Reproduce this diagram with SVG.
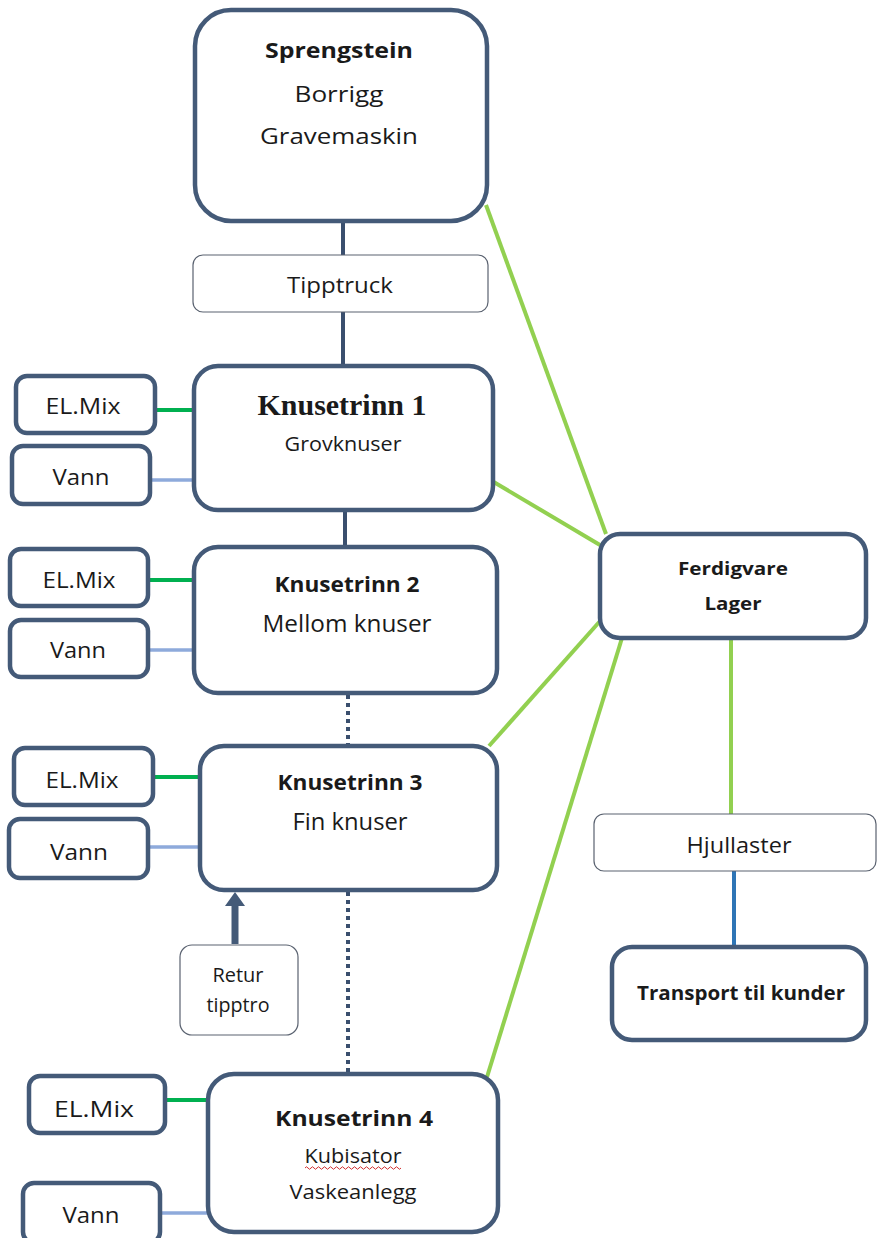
<svg xmlns="http://www.w3.org/2000/svg" width="877" height="1238" viewBox="0 0 877 1238">
<style>
.main{fill:#fff;stroke:#445a78;stroke-width:4.5}
.thin{fill:#fff;stroke:#5a6270;stroke-width:1.2}
.side{fill:#fff;stroke:#445a78;stroke-width:4.5}
.dk{stroke:#3a4f6e;stroke-width:4;fill:none}
.dot{stroke:#3a4f6e;stroke-width:4;fill:none;stroke-dasharray:4 4}
.lg{stroke:#92d050;stroke-width:4;fill:none}
.el{stroke:#00b050;stroke-width:4;fill:none}
.va{stroke:#8eaadb;stroke-width:3.5;fill:none}
.bl{stroke:#2e75b6;stroke-width:4;fill:none}
text{font-family:"Open Sans","Liberation Sans",sans-serif;fill:#1a1a1a;text-anchor:middle}
.b{font-weight:bold}
.t{font-size:22px}
.ser{font-family:"Liberation Serif","DejaVu Serif",serif;font-weight:bold;font-size:29px}
</style>
<g id="connectors">
<line class="dk" x1="343" y1="222" x2="343" y2="255"/>
<line class="dk" x1="343" y1="312" x2="343" y2="366"/>
<line class="dk" x1="345" y1="511" x2="345" y2="546"/>
<line class="dot" x1="348" y1="695" x2="348" y2="745"/>
<line class="dot" x1="348" y1="892" x2="348" y2="1073"/>
<line class="lg" x1="486" y1="205" x2="606" y2="534"/>
<line class="lg" x1="492" y1="481" x2="600" y2="545"/>
<line class="lg" x1="489" y1="746" x2="601" y2="620"/>
<line class="lg" x1="487" y1="1077" x2="622" y2="638"/>
<line class="lg" x1="731" y1="638" x2="731" y2="814"/>
<line class="bl" x1="734" y1="871" x2="734" y2="946"/>
<line class="el" x1="155" y1="410" x2="194" y2="410"/>
<line class="va" x1="150" y1="480" x2="194" y2="480"/>
<line class="el" x1="148" y1="580" x2="194" y2="580"/>
<line class="va" x1="148" y1="650" x2="194" y2="650"/>
<line class="el" x1="153" y1="777" x2="200" y2="777"/>
<line class="va" x1="148" y1="847" x2="200" y2="847"/>
<line class="el" x1="165" y1="1100" x2="208" y2="1100"/>
<line class="va" x1="160" y1="1213" x2="208" y2="1213"/>
<line x1="235" y1="944" x2="235" y2="905" stroke="#445a78" stroke-width="7"/>
<path d="M225,906 L235,892 L245,906 Z" fill="#445a78"/>
</g>
<g id="sprengstein">
<rect class="main" x="195" y="10" width="292" height="211" rx="36"/>
<text class="b" x="339" y="58" font-size="22" textLength="148" lengthAdjust="spacingAndGlyphs">Sprengstein</text>
<text x="339" y="102" font-size="22" textLength="89" lengthAdjust="spacingAndGlyphs">Borrigg</text>
<text x="339" y="144" font-size="22" textLength="158" lengthAdjust="spacingAndGlyphs">Gravemaskin</text>
</g>
<g id="tipptruck">
<rect class="thin" x="193" y="255" width="295" height="57" rx="10"/>
<text x="340" y="293" font-size="22" textLength="106" lengthAdjust="spacingAndGlyphs">Tipptruck</text>
</g>
<g id="knusetrinn1">
<rect class="main" x="194" y="366" width="299" height="144" rx="24"/>
<text class="ser" x="342" y="415" textLength="169" lengthAdjust="spacingAndGlyphs">Knusetrinn 1</text>
<text x="343" y="451" font-size="20" textLength="117" lengthAdjust="spacingAndGlyphs">Grovknuser</text>
</g>
<g id="elmix1"><rect class="side" x="16" y="376" width="139" height="57" rx="11"/><text class="t" x="83" y="414" textLength="75" lengthAdjust="spacingAndGlyphs">EL.Mix</text></g>
<g id="vann1"><rect class="side" x="12" y="446" width="138" height="58" rx="11"/><text class="t" x="81" y="485" textLength="57" lengthAdjust="spacingAndGlyphs">Vann</text></g>
<g id="knusetrinn2">
<rect class="main" x="194" y="547" width="303" height="146" rx="24"/>
<text class="b" x="347" y="592" font-size="22" textLength="145" lengthAdjust="spacingAndGlyphs">Knusetrinn 2</text>
<text x="347" y="632" font-size="23" textLength="169" lengthAdjust="spacingAndGlyphs">Mellom knuser</text>
</g>
<g id="elmix2"><rect class="side" x="10" y="549" width="138" height="57" rx="11"/><text class="t" x="79" y="588" textLength="73" lengthAdjust="spacingAndGlyphs">EL.Mix</text></g>
<g id="vann2"><rect class="side" x="10" y="620" width="138" height="57" rx="11"/><text class="t" x="78" y="658" textLength="56" lengthAdjust="spacingAndGlyphs">Vann</text></g>
<g id="knusetrinn3">
<rect class="main" x="200" y="746" width="297" height="144" rx="24"/>
<text class="b" x="350" y="790" font-size="22" textLength="145" lengthAdjust="spacingAndGlyphs">Knusetrinn 3</text>
<text x="350" y="830" font-size="23" textLength="115" lengthAdjust="spacingAndGlyphs">Fin knuser</text>
</g>
<g id="elmix3"><rect class="side" x="14" y="748" width="139" height="57" rx="11"/><text class="t" x="82" y="788" textLength="73" lengthAdjust="spacingAndGlyphs">EL.Mix</text></g>
<g id="vann3"><rect class="side" x="9" y="819" width="139" height="59" rx="11"/><text class="t" x="79" y="860" textLength="58" lengthAdjust="spacingAndGlyphs">Vann</text></g>
<g id="retur">
<rect class="thin" x="180" y="945" width="118" height="90" rx="12"/>
<text x="238" y="982" font-size="20" textLength="51" lengthAdjust="spacingAndGlyphs">Retur</text>
<text x="238" y="1012" font-size="20" textLength="63" lengthAdjust="spacingAndGlyphs">tipptro</text>
</g>
<g id="knusetrinn4">
<rect class="main" x="208" y="1074" width="290" height="158" rx="26"/>
<text class="b" x="354" y="1126" font-size="22" textLength="158" lengthAdjust="spacingAndGlyphs">Knusetrinn 4</text>
<text x="353" y="1163" font-size="20" textLength="97" lengthAdjust="spacingAndGlyphs">Kubisator</text>
<path d="M305,1168 q1.5,-2.5 3,0 t3,0 t3,0 t3,0 t3,0 t3,0 t3,0 t3,0 t3,0 t3,0 t3,0 t3,0 t3,0 t3,0 t3,0 t3,0 t3,0 t3,0 t3,0 t3,0 t3,0 t3,0 t3,0 t3,0 t3,0 t3,0 t3,0 t3,0 t3,0 t3,0 t3,0 t3,0" fill="none" stroke="#d03030" stroke-width="1"/>
<text x="353" y="1199" font-size="20" textLength="127" lengthAdjust="spacingAndGlyphs">Vaskeanlegg</text>
</g>
<g id="elmix4"><rect class="side" x="29" y="1076" width="136" height="57" rx="11"/><text class="t" x="94" y="1117" textLength="80" lengthAdjust="spacingAndGlyphs">EL.Mix</text></g>
<g id="vann4"><rect class="side" x="23" y="1183" width="137" height="60" rx="11"/><text class="t" x="91" y="1223" textLength="57" lengthAdjust="spacingAndGlyphs">Vann</text></g>
<g id="ferdigvare">
<rect class="main" x="600" y="534" width="266" height="104" rx="20"/>
<text class="b" x="733" y="575" font-size="18" textLength="110" lengthAdjust="spacingAndGlyphs">Ferdigvare</text>
<text class="b" x="733" y="610" font-size="18" textLength="57" lengthAdjust="spacingAndGlyphs">Lager</text>
</g>
<g id="hjullaster">
<rect class="thin" x="594" y="814" width="282" height="57" rx="10"/>
<text x="739" y="853" font-size="22" textLength="105" lengthAdjust="spacingAndGlyphs">Hjullaster</text>
</g>
<g id="transport">
<rect class="main" x="612" y="947" width="254" height="93" rx="20"/>
<text class="b" x="741" y="1000" font-size="19" textLength="208" lengthAdjust="spacingAndGlyphs">Transport til kunder</text>
</g>
</svg>
